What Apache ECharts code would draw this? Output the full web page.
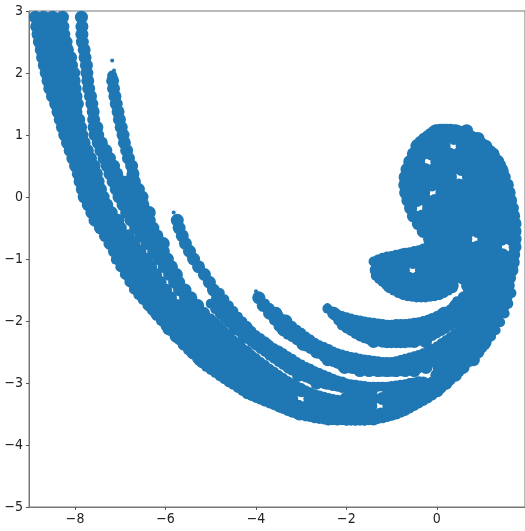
<!DOCTYPE html>
<html><head><meta charset="utf-8">
<style>html,body{margin:0;padding:0;background:#fff;overflow:hidden}#c{width:525px;height:531px}</style>
<script src="https://cdn.jsdelivr.net/npm/echarts@6/dist/echarts.min.js"></script></head>
<body><div id="c"></div>
<script>
const xTicks=[-8,-6,-4,-2,0];
const yTicks=[3,2,1,0,-1,-2,-3,-4,-5];
const upperArcs=[
[2.9,[-8.88,-8.7,-8.5,-8.28,-7.86]],
[2.75,[-8.85,-8.67,-8.47,-8.27,-7.85]],
[2.625,[-8.82,-8.64,-8.44,-8.25,-7.85]],
[2.5,[-8.79,-8.6,-8.4,-8.2,-7.84]],
[2.375,[-8.75,-8.55,-8.35,-8.17,-7.8]],
[2.25,[-8.72,-8.5,-8.3,-8.1,-7.78]],
[2.125,[-8.68,-8.48,-8.28,-8.08,-7.75]],
[2,[-8.64,-8.44,-8.24,-8.03,-7.74]],
[1.875,[-8.6,-8.4,-8.2,-8.02,-7.72,-7.17]],
[1.75,[-8.56,-8.36,-8.16,-8,-7.7,-7.15]],
[1.625,[-8.5,-8.3,-8.1,-7.98,-7.66,-7.12]],
[1.5,[-8.43,-8.23,-8.03,-7.95,-7.63,-7.09]],
[1.375,[-8.38,-8.18,-7.98,-7.6,-7.05]],
[1.25,[-8.33,-8.13,-7.92,-7.59,-7.02]],
[1.125,[-8.28,-8.08,-7.88,-7.58,-7.52,-6.98]],
[1,[-8.23,-8.03,-7.85,-7.56,-7.5,-6.94]],
[0.875,[-8.17,-7.97,-7.8,-7.49,-7.42,-6.91]],
[0.75,[-8.11,-7.91,-7.73,-7.43,-7.32,-6.86]],
[0.625,[-8.05,-7.85,-7.66,-7.36,-7.24,-6.82]],
[0.5,[-7.99,-7.79,-7.58,-7.29,-7.15,-6.75]],
[0.375,[-7.93,-7.73,-7.53,-7.23,-7.08,-6.72]],
[0.25,[-7.89,-7.69,-7.49,-7.16,-6.98,-6.82,-6.69]],
[0.125,[-7.84,-7.64,-7.44,-7.09,-6.9,-6.75,-6.6]],
[0,[-7.8,-7.6,-7.38,-7.03,-6.85,-6.68,-6.52]],
[-0.125,[-7.71,-7.5,-7.3,-6.94,-6.75,-6.58,-6.5]],
[-0.25,[-7.63,-7.43,-7.2,-6.86,-6.66,-6.46,-6.36]],
[-0.375,[-7.56,-7.36,-7.15,-7.05,-6.76,-6.56,-6.36,-5.74]],
[-0.5,[-7.44,-7.24,-7,-6.66,-6.46,-6.28,-5.7]],
[-0.625,[-7.33,-7.13,-6.92,-6.82,-6.54,-6.34,-6.19,-5.63]],
[-0.75,[-7.23,-7.03,-6.83,-6.7,-6.41,-6.21,-6.05,-5.56]],
[-0.875,[-7.13,-6.93,-6.73,-6.57,-6.26,-6.05,-5.47]],
[-1,[-7.04,-6.84,-6.64,-6.42,-6.14,-5.96,-5.38]],
[-1.125,[-6.94,-6.74,-6.54,-6.33,-6.03,-5.87,-5.27]],
[-1.25,[-6.84,-6.64,-6.44,-6.22,-5.91,-5.76,-5.14]],
[-1.375,[-6.73,-6.53,-6.33,-6.12,-5.8,-5.71,-5.03]],
[-1.5,[-6.62,-6.42,-6.22,-6,-5.69,-5.57,-4.94]]
];
const lowerArcs=[
[-1.625,[-6.49,-6.29,-6.09,-5.89,-5.56,-5.44,-4.85,-3.94,0.6,0.8,1.0,1.2,1.4,1.53]],
[-1.75,[-6.35,-6.15,-5.95,-5.75,-5.55,-5.42,-5.29,-4.76,-4.69,-3.84,0.42,0.62,0.76,1.0,1.2,1.4,1.48]],
[-1.875,[-6.2,-6,-5.8,-5.6,-5.4,-5.16,-4.76,-4.59,-3.7,-3.56,-2.28,0.16,0.36,0.56,0.82,1.02,1.22,1.38]],
[-2,[-6.03,-5.83,-5.63,-5.43,-5.23,-5,-4.56,-4.44,-3.51,-3.34,-2.11,-1.91,-0.1,0.09,0.29,0.43,0.72,0.92,1.12,1.31]],
[-2.125,[-5.93,-5.73,-5.53,-5.33,-5.13,-4.93,-4.81,-4.46,-4.2,-3.41,-3.23,-1.76,-1.56,-1.36,-1.16,-0.96,-0.76,-0.56,-0.36,-0.16,0.04,0.1,0.62,0.82,1.02,1.24]],
[-2.25,[-5.76,-5.56,-5.36,-5.16,-4.96,-4.76,-4.62,-4.26,-4.06,-3.1,-3.01,-1.5,-1.3,-1.1,-0.9,-0.7,-0.5,-0.3,0.42,0.62,0.82,1.02,1.13]],
[-2.33,[-1.4,-1.1,-0.8,-0.5,-0.25]],
[-2.375,[-5.59,-5.39,-5.19,-4.99,-4.79,-4.59,-4.39,-3.98,-3.78,-2.96,-2.76,0.15,0.35,0.55,0.75,0.95,1.04]],
[-2.5,[-5.41,-5.21,-5.01,-4.81,-4.61,-4.41,-4.21,-3.71,-3.51,-2.66,-2.46,-0.15,0.05,0.25,0.45,0.65,0.85,0.91]],
[-2.625,[-5.24,-5.04,-4.84,-4.64,-4.44,-4.24,-4.04,-3.48,-3.28,-2.41,-2.2,-2,-1.86,-0.33,-0.13,0.07,0.27,0.47,0.67,0.81]],
[-2.7,[-1.7,-1.5,-1.3,-1.1,-0.9,-0.7,-0.5]],
[-2.75,[-4.9,-4.7,-4.5,-4.3,-4.1,-3.9,-3.26,-3.06,-2.04,-1.84,-1.64,-1.44,-1.24,-1.04,-0.84,-0.64,-0.44,-0.24,0.05,0.25,0.45,0.58]],
[-2.8,[-1.7,-1.5,-1.3,-1.1,-0.9,-0.7,-0.5]],
[-2.875,[-4.64,-4.44,-4.24,-4.04,-3.84,-3.64,-3.06,-2.86,-2.66,0,0.2,0.41]],
[-3,[-4.41,-4.21,-4.01,-3.81,-3.61,-3.41,-3.3,-2.66,-2.46,-2.26,-2.1,-0.3,-0.1,0.1,0.21]],
[-3.125,[-4.17,-3.97,-3.77,-3.57,-3.37,-3.17,-3,-1.85,-1.65,-1.45,-1.05,-0.85,-0.65,-0.45,-0.25,0.01]],
[-3.25,[-3.81,-3.61,-3.41,-3.21,-2.81,-2.61,-2.01,-1.81,-1.61,-1.41,-1.21,-1.01,-0.81,-0.61,-0.41]],
[-3.375,[-3.46,-3.26,-3.06,-2.86,-2.66,-2.46,-2.26,-2.06,-1.86,-1.66,-1.46,-1.06,-0.86,-0.66]],
[-3.5,[-3.04,-2.84,-2.64,-2.44,-2.24,-2.04,-1.84,-1.64,-1.44,-1.24,-1.04]],
[-3.58,[-2.4,-2.2,-2,-1.8,-1.6,-1.4]]
];
const headRows=[
[1.07,[-0.02,0.2,0.42,0.66]],
[0.945,[-0.22,-0.02,0.18,0.38,0.58,0.78,0.91]],
[0.82,[-0.44,-0.24,-0.04,0.16,0.56,0.76,0.96,1.08]],
[0.695,[-0.52,-0.32,-0.12,0.08,0.28,0.48,0.68,0.88,1.08,1.24]],
[0.57,[-0.6,-0.4,0,0.2,0.4,0.6,0.8,1,1.2,1.35]],
[0.445,[-0.66,-0.46,-0.26,-0.06,0.14,0.34,0.54,0.74,0.94,1.14,1.34,1.43]],
[0.32,[-0.7,-0.5,-0.3,-0.1,0.1,0.3,0.7,0.9,1.1,1.3,1.49]],
[0.195,[-0.71,-0.51,-0.31,-0.11,0.09,0.29,0.49,0.69,0.89,1.09,1.29,1.49,1.56]],
[0.07,[-0.69,-0.49,-0.29,0.11,0.31,0.51,0.71,0.91,1.11,1.31,1.51,1.6]],
[-0.055,[-0.64,-0.44,-0.24,-0.04,0.16,0.36,0.56,0.76,0.96,1.16,1.36,1.56,1.63]],
[-0.18,[-0.58,-0.18,0.02,0.22,0.42,0.62,0.82,1.02,1.22,1.42,1.67]],
[-0.305,[-0.52,-0.32,-0.12,0.08,0.28,0.48,0.68,0.88,1.08,1.28,1.48,1.7]],
[-0.43,[-0.41,-0.21,-0.01,0.19,0.39,0.59,0.79,0.99,1.19,1.39,1.59,1.73]],
[-0.555,[-0.3,-0.1,0.1,0.3,0.5,0.7,0.9,1.1,1.3,1.5,1.73]],
[-0.68,[-0.16,0.04,0.24,0.44,0.64,1.04,1.24,1.44,1.64,1.73]],
[-0.805,[-0.1,0.1,0.3,0.5,0.7,0.9,1.1,1.3,1.73]],
[-0.93,[-0.75,-0.55,-0.35,-0.15,0.05,0.25,0.45,0.65,0.85,1.05,1.25,1.45,1.7]],
[-1.055,[-1.33,-1.13,-0.93,-0.73,-0.53,-0.33,-0.13,0.07,0.27,0.47,0.67,0.87,1.07,1.27,1.47,1.69]],
[-1.18,[-1.34,-1.14,-0.94,-0.74,-0.34,-0.14,0.06,0.26,0.46,0.66,0.86,1.06,1.26,1.46,1.66]],
[-1.305,[-1.23,-1.03,-0.83,-0.63,-0.43,-0.23,-0.03,0.17,0.37,0.57,0.77,0.97,1.17,1.37,1.61]],
[-1.43,[-1.06,-0.86,-0.66,-0.46,-0.26,-0.06,0.14,0.34,0.68,0.88,1.08,1.28,1.48,1.58]],
[-1.555,[-0.7,-0.5,-0.3,-0.1,0.05,0.72,0.92,1.12,1.32,1.52]]
];
const outerEdge=[[-7.1,-1.01],[-7,-1.13],[-6.9,-1.25],[-6.8,-1.37],[-6.7,-1.49],[-6.6,-1.58],[-6.5,-1.66],[-6.4,-1.75],[-6.3,-1.83],[-6.2,-1.92],[-6.1,-2],[-6,-2.08],[-5.9,-2.16],[-5.8,-2.24],[-5.7,-2.31],[-5.6,-2.39],[-5.5,-2.47],[-5.4,-2.54],[-5.3,-2.61],[-5.2,-2.68],[-5.1,-2.74],[-5,-2.79],[-4.9,-2.84],[-4.8,-2.89],[-4.7,-2.94],[-4.6,-2.99],[-4.5,-3.03],[-4.4,-3.08],[-4.3,-3.13],[-4.2,-3.18],[-4.1,-3.21],[-4,-3.24],[-3.9,-3.27],[-3.8,-3.3],[-3.7,-3.33],[-3.6,-3.36],[-3.5,-3.39],[-3.4,-3.42],[-3.3,-3.45],[-3.2,-3.48],[-3.1,-3.5],[-3,-3.52],[-2.9,-3.54],[-2.8,-3.55],[-2.7,-3.57],[-2.6,-3.58],[-2.5,-3.59],[-2.4,-3.6],[-2.3,-3.6],[-2.2,-3.6],[-2.1,-3.6],[-2,-3.61],[-1.9,-3.61],[-1.8,-3.61],[-1.7,-3.61],[-1.6,-3.61],[-1.5,-3.6],[-1.4,-3.59],[-1.3,-3.58],[-1.2,-3.57],[-1.1,-3.55],[-1,-3.53],[-0.9,-3.51],[-0.8,-3.48],[-0.7,-3.45],[-0.6,-3.41],[-0.5,-3.37],[-0.4,-3.33],[-0.3,-3.29],[-0.2,-3.25],[-0.1,-3.2],[0,-3.15],[0.1,-3.09],[0.2,-3.03],[0.3,-2.96],[0.4,-2.89],[0.5,-2.82],[0.6,-2.75],[0.7,-2.67],[0.8,-2.59],[0.9,-2.52],[1,-2.44],[1.1,-2.35],[1.2,-2.25],[1.3,-2.15],[1.4,-2.02],[1.5,-1.88],[1.58,-1.72],[1.65,-1.55]];
const arcEdgeBelowGap=[[-5,-1.96],[-4.9,-2.02],[-4.8,-2.09],[-4.7,-2.17],[-4.6,-2.24],[-4.5,-2.31],[-4.4,-2.37],[-4.3,-2.44],[-4.2,-2.5],[-4.1,-2.55],[-4,-2.6],[-3.9,-2.66],[-3.8,-2.71],[-3.7,-2.77],[-3.6,-2.82],[-3.5,-2.87],[-3.4,-2.92],[-3.3,-2.97],[-3.2,-3.01],[-3.1,-3.05],[-3,-3.08],[-2.9,-3.12],[-2.8,-3.15],[-2.7,-3.18],[-2.6,-3.2],[-2.5,-3.22],[-2.4,-3.24],[-2.3,-3.26],[-2.2,-3.27],[-2.1,-3.29],[-2,-3.3]];
const arcEdgeAboveGap=[[-5,-1.72],[-4.9,-1.81],[-4.8,-1.88],[-4.7,-1.96],[-4.6,-2.03],[-4.5,-2.1],[-4.4,-2.16],[-4.3,-2.23],[-4.2,-2.29],[-4.1,-2.34],[-4,-2.39],[-3.9,-2.45],[-3.8,-2.5],[-3.7,-2.56],[-3.6,-2.61],[-3.5,-2.66],[-3.4,-2.71],[-3.3,-2.76],[-3.2,-2.8],[-3.1,-2.84],[-3,-2.87],[-2.9,-2.91],[-2.8,-2.94],[-2.7,-2.97],[-2.6,-2.99],[-2.5,-3.01],[-2.4,-3.03],[-2.3,-3.05],[-2.2,-3.06],[-2.1,-3.08],[-2,-3.09]];
const fTopEdge=[[-4.8,-1.55],[-4.7,-1.65],[-4.6,-1.75],[-4.5,-1.84],[-4.4,-1.93],[-4.3,-2.01],[-4.2,-2.08],[-4.1,-2.16],[-4,-2.23],[-3.9,-2.28],[-3.8,-2.33],[-3.7,-2.39],[-3.6,-2.44],[-3.5,-2.48],[-3.4,-2.52],[-3.3,-2.57],[-3.2,-2.61],[-3.1,-2.66],[-3,-2.7],[-2.9,-2.74],[-2.8,-2.77],[-2.7,-2.81],[-2.6,-2.84],[-2.5,-2.87],[-2.4,-2.9],[-2.3,-2.93],[-2.2,-2.96],[-2.1,-2.99],[-2,-3.01],[-1.9,-3.02],[-1.8,-3.03],[-1.7,-3.04],[-1.6,-3.05],[-1.5,-3.06],[-1.4,-3.06],[-1.3,-3.06],[-1.2,-3.06],[-1.1,-3.06],[-1,-3.05],[-0.9,-3.04],[-0.8,-3.03],[-0.7,-3.02],[-0.6,-3],[-0.5,-2.99],[-0.4,-2.97]];
const gLowerEdge=[[-3.9,-1.63],[-3.82,-1.72],[-3.75,-1.8],[-3.68,-1.9],[-3.6,-1.99],[-3.5,-2.09],[-3.4,-2.17],[-3.3,-2.22],[-3.2,-2.26],[-3.1,-2.31],[-3,-2.36],[-2.9,-2.41],[-2.8,-2.45],[-2.7,-2.49],[-2.6,-2.53],[-2.5,-2.58],[-2.4,-2.62],[-2.3,-2.66],[-2.2,-2.69],[-2.1,-2.73],[-2,-2.76],[-1.9,-2.77],[-1.8,-2.78],[-1.7,-2.79],[-1.6,-2.79],[-1.5,-2.8],[-1.4,-2.81],[-1.3,-2.82],[-1.2,-2.82],[-1.1,-2.82],[-1,-2.82],[-0.9,-2.82],[-0.8,-2.81],[-0.7,-2.8],[-0.6,-2.79],[-0.5,-2.78],[-0.4,-2.76],[-0.3,-2.73],[-0.2,-2.7],[-0.1,-2.66],[0,-2.6],[0.1,-2.54],[0.2,-2.48]];
const gUpperEdge=[[-3.8,-1.72],[-3.7,-1.79],[-3.6,-1.85],[-3.5,-1.91],[-3.4,-1.97],[-3.3,-2.03],[-3.2,-2.08],[-3.1,-2.14],[-3,-2.19],[-2.9,-2.25],[-2.8,-2.3],[-2.7,-2.35],[-2.6,-2.39],[-2.5,-2.42],[-2.4,-2.45],[-2.3,-2.49],[-2.2,-2.52],[-2.1,-2.54],[-2,-2.56],[-1.9,-2.58],[-1.8,-2.59],[-1.7,-2.61],[-1.6,-2.62],[-1.5,-2.63],[-1.4,-2.64],[-1.3,-2.65],[-1.2,-2.66],[-1.1,-2.66],[-1,-2.66],[-0.9,-2.65],[-0.8,-2.63],[-0.7,-2.61],[-0.6,-2.59],[-0.5,-2.57],[-0.4,-2.55],[-0.3,-2.52],[-0.2,-2.49],[-0.1,-2.45],[0,-2.41],[0.1,-2.36],[0.2,-2.31],[0.3,-2.26],[0.4,-2.2],[0.5,-2.12],[0.55,-2.08]];
const hLowerEdge=[[-2.42,-1.8],[-2.32,-1.85],[-2.25,-1.92],[-2.18,-1.99],[-2.1,-2.07],[-2,-2.12],[-1.9,-2.16],[-1.8,-2.21],[-1.7,-2.25],[-1.6,-2.28],[-1.5,-2.3],[-1.4,-2.32],[-1.3,-2.33],[-1.2,-2.35],[-1.1,-2.36],[-1,-2.36],[-0.9,-2.36],[-0.8,-2.36],[-0.7,-2.36],[-0.6,-2.35],[-0.5,-2.34],[-0.4,-2.32],[-0.3,-2.3],[-0.2,-2.27],[-0.1,-2.24],[0,-2.2],[0.1,-2.16],[0.2,-2.12],[0.3,-2.07],[0.4,-2.02],[0.5,-1.97],[0.6,-1.89],[0.7,-1.8],[0.78,-1.7],[0.85,-1.6]];
const hUpperEdge=[[-2.3,-1.85],[-2.2,-1.89],[-2.1,-1.92],[-2,-1.94],[-1.9,-1.96],[-1.8,-1.98],[-1.7,-1.99],[-1.6,-2.01],[-1.5,-2.02],[-1.4,-2.03],[-1.3,-2.04],[-1.2,-2.05],[-1.1,-2.06],[-1,-2.06],[-0.9,-2.05],[-0.8,-2.05],[-0.7,-2.05],[-0.6,-2.04],[-0.5,-2.03],[-0.4,-2.02],[-0.3,-2],[-0.2,-1.98],[-0.1,-1.95],[0,-1.92],[0.1,-1.88],[0.2,-1.85],[0.3,-1.81],[0.38,-1.75],[0.45,-1.68]];
const lobeLowerEdge=[[-1.35,-1.27],[-1.28,-1.32],[-1.2,-1.37],[-1.12,-1.42],[-1.05,-1.47],[-0.95,-1.51],[-0.85,-1.55],[-0.75,-1.58],[-0.65,-1.6],[-0.55,-1.61],[-0.45,-1.62],[-0.35,-1.62],[-0.25,-1.62],[-0.15,-1.61],[-0.05,-1.6],[0.05,-1.58],[0.15,-1.55],[0.25,-1.51],[0.35,-1.47]];
const lobeUpperEdge=[[-1.4,-1.04],[-1.3,-1.01],[-1.2,-0.98],[-1.1,-0.96],[-1,-0.95],[-0.9,-0.93],[-0.8,-0.92],[-0.7,-0.9],[-0.6,-0.89],[-0.5,-0.87],[-0.4,-0.86],[-0.3,-0.83],[-0.2,-0.8],[-0.12,-0.76]];
const headTopEdge=[[-0.45,0.85],[-0.38,0.9],[-0.3,0.95],[-0.22,0.99],[-0.15,1.03],[-0.08,1.07],[0,1.09],[0.08,1.1],[0.15,1.1],[0.22,1.1],[0.3,1.1],[0.38,1.09],[0.45,1.08],[0.52,1.07],[0.6,1.05],[0.68,1.03],[0.75,1],[0.82,0.97],[0.9,0.93],[0.98,0.89],[1.05,0.85],[1.12,0.8],[1.2,0.75],[1.28,0.68],[1.35,0.6],[1.42,0.52],[1.48,0.42]];
const tipEdge=[[-7.18,1.96],[-7.17,1.92]];
const tipDots=[[-7.18,2.2],[-7.14,2.04],[-5.82,-0.25],[-5.8,-0.33],[-4,-1.52],[-2.42,-1.74]];
const toPoints=rows=>rows.flatMap(([y,xs])=>xs.map(x=>[x,y]));
const bulk=[...upperArcs,...lowerArcs,...headRows];
const edges=[...outerEdge,...arcEdgeBelowGap,...arcEdgeAboveGap,...fTopEdge,...gLowerEdge,...gUpperEdge,...hLowerEdge,...hUpperEdge,...lobeLowerEdge,...lobeUpperEdge,...headTopEdge,...tipEdge];
const blue='#1f77b4';
const minus=v=>String(v).replace('-','\u2212');
const labelStyle={color:'#222',fontFamily:'"DejaVu Sans Condensed","Liberation Sans Narrow","DejaVu Sans",sans-serif',fontSize:14};
const chart=echarts.init(document.getElementById('c'),null,{renderer:'canvas'});
chart.setOption({
 animation:false,
 grid:{left:29,top:11,width:497,height:496,show:true,backgroundColor:'#fff',borderColor:'#777',borderWidth:1},
 xAxis:{type:'value',min:-9.02,max:1.95,splitLine:{show:false},
  axisLine:{show:true,onZero:false,lineStyle:{color:'#777'}},
  axisTick:{show:true,length:3,customValues:xTicks,lineStyle:{color:'#555'}},
  axisLabel:{...labelStyle,margin:5,customValues:xTicks,formatter:minus}},
 yAxis:{type:'value',min:-5,max:3,splitLine:{show:false},
  axisLine:{show:true,onZero:false,lineStyle:{color:'#777'}},
  axisTick:{show:true,length:3,customValues:yTicks,lineStyle:{color:'#555'}},
  axisLabel:{...labelStyle,margin:6,customValues:yTicks,formatter:minus}},
 series:[
  {type:'scatter',data:toPoints(bulk),symbolSize:13,itemStyle:{color:blue,opacity:1},clip:true,silent:true},
  {type:'scatter',data:edges,symbolSize:10,itemStyle:{color:blue,opacity:1},clip:true,silent:true},
  {type:'scatter',data:tipDots,symbolSize:4,itemStyle:{color:blue,opacity:1},clip:true,silent:true}
 ]
});
</script></body></html>
